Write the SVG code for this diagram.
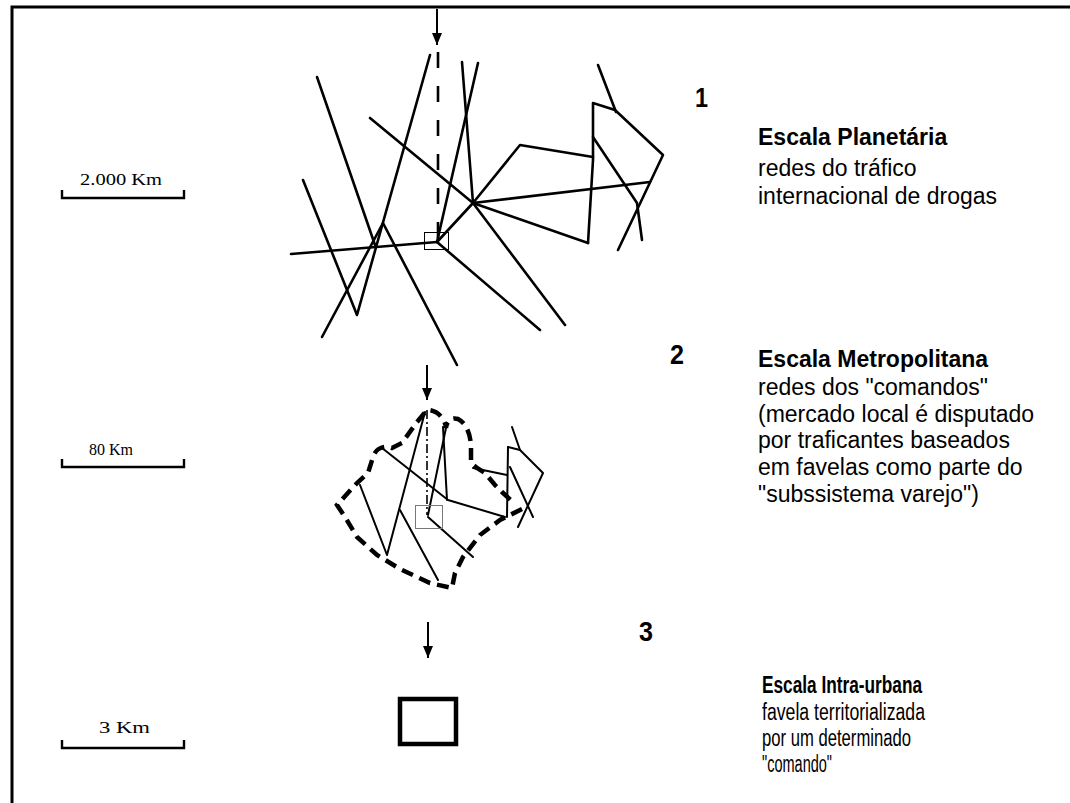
<svg xmlns="http://www.w3.org/2000/svg" width="1070" height="803" viewBox="0 0 1070 803">
<defs>
<marker id="ah" viewBox="0 0 12 10" markerWidth="12" markerHeight="10" refX="12" refY="5" orient="auto" markerUnits="userSpaceOnUse">
<path d="M0,0 L12,5 L0,10 z" fill="#000"/>
</marker>
<style>
.ln{fill:none;stroke:#000;stroke-width:2.6;stroke-linecap:round;stroke-linejoin:round}
.thin{fill:none;stroke:#000;stroke-width:2;stroke-linecap:round;stroke-linejoin:round}
.arr{fill:none;stroke:#000;stroke-width:2}
.bar{fill:none;stroke:#000;stroke-width:2.4}
.sc{font-family:"Liberation Serif","Times New Roman",serif;font-size:17px;fill:#000}
.hd{font-family:"Liberation Sans",Arial,sans-serif;font-size:23px;font-weight:bold;fill:#000}
.bd{font-family:"Liberation Sans",Arial,sans-serif;font-size:23px;fill:#000}
.num{font-family:"Liberation Sans",Arial,sans-serif;font-size:28px;font-weight:bold;fill:#000}
</style>
</defs>
<rect width="1070" height="803" fill="#fff"/>
<g id="frame">
<path d="M12,803 L12,7 L1070,7" fill="none" stroke="#000" stroke-width="3"/>
</g>

<g id="scale-bars">
<g id="scale1">
<text class="sc" x="80" y="185" textLength="82" lengthAdjust="spacingAndGlyphs">2.000 Km</text>
<path class="bar" d="M62,190 L62,198 L184,198 L184,190"/>
</g>
<g id="scale2">
<text class="sc" x="89" y="455" textLength="44" lengthAdjust="spacingAndGlyphs">80 Km</text>
<path class="bar" d="M62,459 L62,467 L184,467 L184,459"/>
</g>
<g id="scale3">
<text class="sc" x="99" y="733" textLength="51" lengthAdjust="spacingAndGlyphs">3 Km</text>
<path class="bar" d="M62,740 L62,748 L184,748 L184,740"/>
</g>
</g>

<g id="network-planetary">
<path class="ln" d="M317,77 L375,245"/>
<path class="ln" d="M322,337 L383,223 L457,365"/>
<path class="ln" d="M303,180 L357,315 L430,55"/>
<path class="ln" d="M291,254 L437,242"/>
<path class="ln" d="M478,63 L437,242"/>
<path class="ln" d="M437,242 L473,203"/>
<path class="ln" d="M437,242 L540,330"/>
<path class="ln" d="M473,203 L565,325"/>
<path class="ln" d="M370,118 L473,203"/>
<path class="ln" d="M462,62 L473,203"/>
<path class="ln" d="M473,203 L520,145 L593,157"/>
<path class="ln" d="M588,243 L593,160 L593,103 L615,110 L663,155 L618,250"/>
<path class="ln" d="M598,65 L616,112"/>
<path class="ln" d="M593,137 L637,203 L642,240"/>
<path class="ln" d="M473,203 L650,182"/>
<path class="ln" d="M473,203 L588,243"/>
<path d="M438,52 L438,240" fill="none" stroke="#000" stroke-width="2.6" stroke-dasharray="16 18"/>
<rect x="424.5" y="232.5" width="24" height="17" fill="none" stroke="#000" stroke-width="1"/>
<line class="arr" x1="437" y1="9" x2="437" y2="45" marker-end="url(#ah)"/>
</g>

<g id="network-metropolitan">
<path d="M522,509 L500,520 L480,535 L463,557 L455,573 L452,588 L430,583 L400,569 L377,555 L357,537 L345,517 L337,505 L357,483 L368,473 L373,457 C376,447 386,445 392,448 L402,443 L417,422 L427,410 C437,410 445,418 446,428 C447,420 452,417 458,419 C466,423 470,433 471,445 L471,463 L477,468 L485,473 L495,485 L502,492 L514,503" fill="none" stroke="#000" stroke-width="4.5" stroke-dasharray="12 7"/>
<path class="thin" d="M360,485 L387,555 L425,412"/>
<path class="thin" d="M382,448 L448,500 L505,517"/>
<path class="thin" d="M447,423 L428,515"/>
<path class="thin" d="M443,427 L447,500"/>
<path class="thin" d="M400,510 L438,580"/>
<path class="thin" d="M428,517 L473,557"/>
<path class="thin" d="M508,447 L507,517"/>
<path class="thin" d="M508,447 L520,450 L543,473 L518,527"/>
<path class="thin" d="M512,427 L520,450"/>
<path class="thin" d="M510,467 L533,517"/>
<path class="thin" d="M473,468 L507,475"/>
<path d="M427,410 L427,515" fill="none" stroke="#000" stroke-width="1.6" stroke-dasharray="9 3 2 3"/>
<rect x="415.5" y="505.5" width="27" height="23" fill="none" stroke="#777" stroke-width="1"/>
<line class="arr" x1="427" y1="365" x2="427" y2="400" marker-end="url(#ah)"/>
</g>

<g id="intra-urban">
<line class="arr" x1="428" y1="622" x2="428" y2="658" marker-end="url(#ah)"/>
<rect x="400" y="699" width="56" height="45" fill="none" stroke="#000" stroke-width="4.5"/>
</g>

<g id="label-1">
<text class="num" x="695" y="107" textLength="13" lengthAdjust="spacingAndGlyphs">1</text>
<text class="hd" x="758" y="145">Escala Planetária</text>
<text class="bd" x="758" y="176">redes do tráfico</text>
<text class="bd" x="758" y="204">internacional de drogas</text>
</g>
<g id="label-2">
<text class="num" x="670" y="364" textLength="14" lengthAdjust="spacingAndGlyphs">2</text>
<text class="hd" x="758" y="367">Escala Metropolitana</text>
<text class="bd" x="758" y="395">redes dos "comandos"</text>
<text class="bd" x="758" y="422">(mercado local é disputado</text>
<text class="bd" x="758" y="448">por traficantes baseados</text>
<text class="bd" x="758" y="475">em favelas como parte do</text>
<text class="bd" x="758" y="502">"subssistema varejo")</text>
</g>
<g id="label-3">
<text class="num" x="639" y="641" textLength="14" lengthAdjust="spacingAndGlyphs">3</text>
<text class="hd" x="762" y="693" textLength="160" lengthAdjust="spacingAndGlyphs">Escala Intra-urbana</text>
<text class="bd" x="762" y="720" textLength="163" lengthAdjust="spacingAndGlyphs">favela territorializada</text>
<text class="bd" x="762" y="746" textLength="149" lengthAdjust="spacingAndGlyphs">por um determinado</text>
<text class="bd" x="762" y="772" textLength="70" lengthAdjust="spacingAndGlyphs">"comando"</text>
</g>
</svg>
